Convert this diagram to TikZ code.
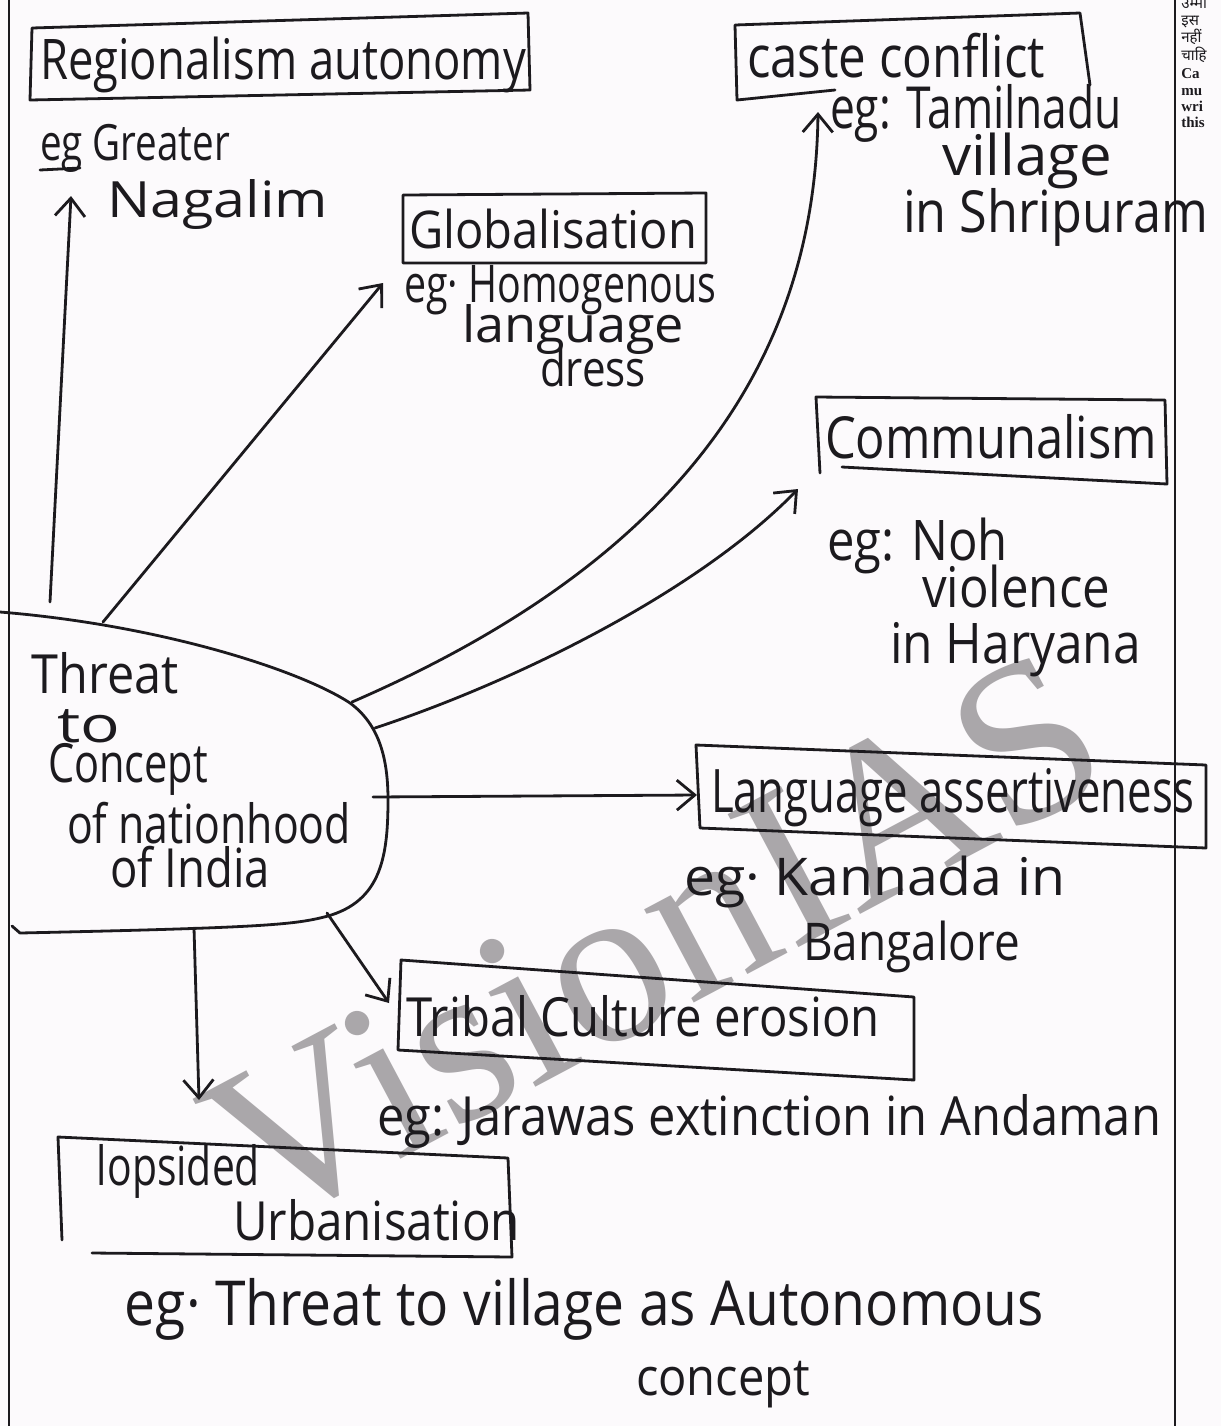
\documentclass[tikz,border=0pt]{standalone}
\usepackage{fontspec}
\setmainfont{Open Sans}
\newfontfamily\wmfont{Liberation Serif}
\newfontfamily\margfont{Liberation Serif}
\newfontfamily\devfont[Script=Devanagari]{Noto Sans}
\usetikzlibrary{arrows.meta}
\newdimen\unitpx
\unitpx=0.5pt
\newcommand\hw[3][26]{\resizebox{#2\unitpx}{\height}{\fontsize{#1}{#1}\selectfont #3}}
\definecolor{ink}{RGB}{28,26,30}
\definecolor{paper}{RGB}{252,250,252}
\definecolor{wmgray}{RGB}{170,167,170}
\begin{document}
\begin{tikzpicture}[x=0.5pt,y=-0.5pt,line cap=round,line join=round,
  hand/.style={inner sep=0pt,outer sep=0pt,text=ink,anchor=base west},
  boxline/.style={draw=ink,line width=1.4pt},
  con/.style={draw=ink,line width=1.4pt},
  arr/.style={draw=ink,line width=1.4pt,-{Straight Barb[length=9pt,width=15pt,line width=1.4pt]}},
  rule/.style={draw=ink,line width=1pt},
  marg/.style={inner sep=0pt,text=ink,anchor=base west,font=\fontsize{7.5}{8}\selectfont\bfseries}]
\fill[paper] (0,0) rectangle (1221,1426);
\useasboundingbox (0,0) rectangle (1221,1426);

% watermark
\node[text=wmgray,inner sep=0pt,rotate=28] (wmark) at (655,940)
  {\wmfont\fontsize{115}{115}\selectfont VisionIAS};

% page rules
\draw[rule] (9,0) -- (9,1426);
\draw[rule] (1175,0) -- (1175,1426);

% margin text (cut off at the page edge)
\begin{scope}
\clip (1177,0) rectangle (1221,1426);
\node[marg] (m1) at (1181,8) {\devfont\bfseries उम्मी};
\node[marg] (m2) at (1181,25) {\devfont\bfseries इस};
\node[marg] (m3) at (1181,42) {\devfont\bfseries नहीं};
\node[marg] (m4) at (1181,60) {\devfont\bfseries चाहि};
\node[marg] (m5) at (1181,78) {\margfont\bfseries Ca};
\node[marg] (m6) at (1181,95) {\margfont\bfseries mu};
\node[marg] (m7) at (1181,111) {\margfont\bfseries wri};
\node[marg] (m8) at (1181,127) {\margfont\bfseries this};
\end{scope}

% central blob
\draw[con] (0,612) .. controls (160,625) and (300,670) .. (350,703)
  .. controls (380,725) and (388,760) .. (388,800)
  .. controls (388,860) and (380,905) .. (320,918)
  .. controls (290,925) and (250,928) .. (20,933) -- (12,926);
\node[hand] (t1) at (32,693) {\hw[27]{147}{Threat}};
\node[hand] (t2) at (57,742) {\hw[25]{63}{to}};
\node[hand] (t3) at (48,782) {\hw[27]{160}{Concept}};
\node[hand] (t4) at (67,843) {\hw[27]{284}{of nationhood}};
\node[hand] (t5) at (110,887) {\hw[27]{160}{of India}};

% Regionalism autonomy
\draw[boxline] (32,28) -- (528,13) -- (530,90) -- (30,100) -- cycle;
\node[hand] (regT) at (40,79) {\hw[28]{486}{Regionalism autonomy}};
\node[hand] (regE1) at (40,160) {\hw[25]{190}{eg Greater}};
\node[hand] (regE2) at (107,217) {\hw[25]{221}{Nagalim}};
\draw[con] (40,170) -- (80,168);

% Globalisation
\draw[boxline] (403,195) -- (706,193) -- (706,263) -- (403,263) -- cycle;
\node[hand] (globT) at (409,248) {\hw[26]{288}{Globalisation}};
\node[hand] (globE1) at (404,302) {\hw[26]{312}{eg· Homogenous}};
\node[hand] (globE2) at (462,342) {\hw[25]{222}{language}};
\node[hand] (globE3) at (540,386) {\hw[25]{106}{dress}};

% Caste conflict
\draw[boxline] (835,90) -- (737,100) -- (735,25) -- (1080,13) -- (1090,85);
\node[hand] (casteT) at (747,77) {\hw[29]{298}{caste conflict}};
\node[hand] (casteE1) at (830,128) {\hw[29]{292}{eg: Tamilnadu}};
\node[hand] (casteE2) at (942,175) {\hw[28]{170}{village}};
\node[hand] (casteE3) at (903,232) {\hw[29]{305}{in Shripuram}};

% Communalism
\draw[boxline] (820,473) -- (816,397) -- (1165,400) -- (1167,484) -- (842,467);
\node[hand] (commT) at (825,458) {\hw[29]{332}{Communalism}};
\node[hand] (commE1) at (827,560) {\hw[28]{181}{eg: Noh}};
\node[hand] (commE2) at (922,607) {\hw[28]{188}{violence}};
\node[hand] (commE3) at (890,663) {\hw[28]{251}{in Haryana}};

% Language assertiveness
\draw[boxline] (696,745) -- (1206,765) -- (1206,848) -- (700,828) -- cycle;
\node[hand] (langT) at (711,812) {\hw[30]{483}{Language assertiveness}};
\node[hand] (langE1) at (684,895) {\hw[26]{381}{eg· Kannada in}};
\node[hand] (langE2) at (803,960) {\hw[26]{217}{Bangalore}};

% Tribal culture erosion
\draw[boxline] (401,960) -- (914,997) -- (914,1080) -- (398,1050) -- cycle;
\node[hand] (tribT) at (406,1036) {\hw[27]{474}{Tribal Culture erosion}};
\node[hand] (tribE) at (377,1135) {\hw[27]{784}{eg: Jarawas extinction in Andaman}};

% Lopsided urbanisation
\draw[boxline] (62,1240) -- (58,1137) -- (508,1158) -- (512,1257) -- (92,1253);
\node[hand] (urbT1) at (97,1185) {\hw[27]{163}{lopsided}};
\node[hand] (urbT2) at (233,1240) {\hw[27]{287}{Urbanisation}};
\node[hand] (urbE1) at (125,1325) {\hw[31]{919}{eg· Threat to village as Autonomous}};
\node[hand] (urbE2) at (636,1395) {\hw[26]{174}{concept}};

% connector end points
\coordinate (sReg) at (50,602);
\coordinate (eReg) at (71,196);
\coordinate (sGlob) at (103,622);
\coordinate (eGlob) at (383,283);
\coordinate (sCaste) at (352,702);
\coordinate (eCaste) at (818,112);
\coordinate (sComm) at (375,728);
\coordinate (eComm) at (798,489);
\coordinate (sLang) at (373,797);
\coordinate (eLang) at (697,795);
\coordinate (sTrib) at (327,913);
\coordinate (eTrib) at (389,1003);
\coordinate (sUrb) at (194,928);
\coordinate (eUrb) at (199,1100);

\draw[arr] (sReg) -- (eReg);
\draw[arr] (sGlob) -- (eGlob);
\draw[arr] (sCaste) .. controls (680,560) and (815,360) .. (eCaste);
\draw[arr] (sComm) .. controls (520,680) and (700,590) .. (eComm);
\draw[arr] (sLang) -- (eLang);
\draw[arr] (sTrib) -- (eTrib);
\draw[arr] (sUrb) -- (eUrb);
\end{tikzpicture}
\end{document}
